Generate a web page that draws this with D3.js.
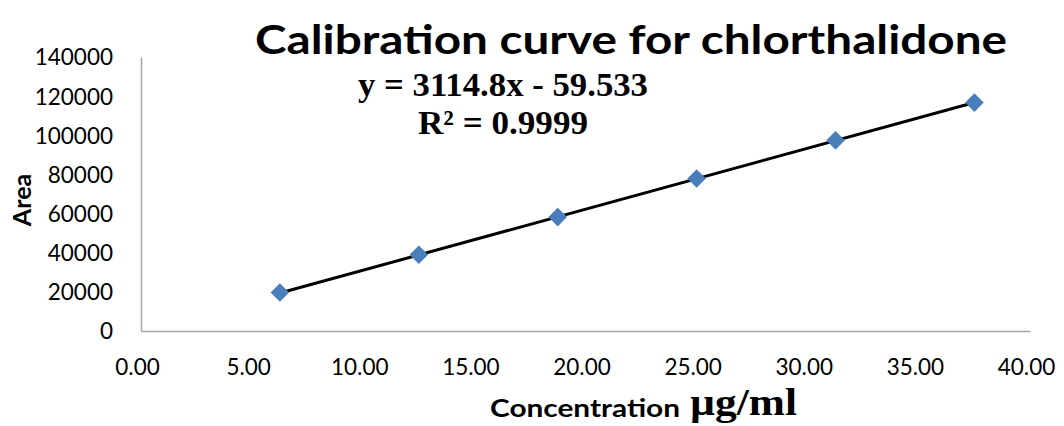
<!DOCTYPE html>
<html>
<head>
<meta charset="utf-8">
<script src="https://cdn.jsdelivr.net/npm/d3@7"></script>
<style>
  html, body { margin: 0; padding: 0; background: #fff; }
  svg { display: block; }
</style>
</head>
<body>
<svg id="chart" width="1064" height="426"></svg>
<script>
// Calibration data: concentration (µg/ml) vs peak area
const concentrations = [6.25, 12.5, 18.75, 25, 31.25, 37.5];
const areas = [19700, 38950, 58200, 77900, 97400, 116700];
const xTicks = [0, 5, 10, 15, 20, 25, 30, 35, 40];
const yTicks = [0, 20000, 40000, 60000, 80000, 100000, 120000, 140000];
// Linear fit reported on the chart
const slope = 3114.8;
const intercept = -59.533;
const rSquared = "0.9999";

const svg = d3.select("#chart");
const plot = { left: 141, right: 1030, top: 57, bottom: 331 };

const x = d3.scaleLinear().domain([0, 40]).range([plot.left, plot.right]);
const y = d3.scaleLinear().domain([0, 140000]).range([plot.bottom, plot.top]);

const sans = "Lato, 'Open Sans', sans-serif";
const serif = "'Liberation Serif', 'DejaVu Serif', serif";

// X axis
const xAxis = svg.append("g")
  .attr("transform", `translate(0,${plot.bottom})`)
  .call(d3.axisBottom(x).tickValues(xTicks).tickSize(0)
    .tickFormat(d => d.toFixed(2)));
// Y axis
const yAxis = svg.append("g")
  .attr("transform", `translate(${plot.left},0)`)
  .call(d3.axisLeft(y).tickValues(yTicks).tickSize(0).tickPadding(28)
    .tickFormat(d3.format("d")));

[xAxis, yAxis].forEach(g => {
  g.select(".domain").attr("stroke", "#a6a6a6").attr("stroke-width", 1.5);
  g.selectAll("text").attr("font-family", sans).attr("font-size", 22.5).attr("fill", "#000");
});
xAxis.selectAll("text").attr("dy", "0.35em").attr("y", 36).attr("x", -4);
yAxis.selectAll("text").attr("dy", "0.35em");

// Trendline from the fitted equation
const xMin = d3.min(concentrations), xMax = d3.max(concentrations);
svg.append("line")
  .attr("x1", x(xMin)).attr("y1", y(slope * xMin + intercept))
  .attr("x2", x(xMax)).attr("y2", y(slope * xMax + intercept))
  .attr("stroke", "#000").attr("stroke-width", 3);

// Data markers (diamonds)
const diamond = d3.symbol().type(d3.symbolDiamond2).size(220);
svg.append("g").selectAll("path")
  .data(concentrations.map((c, i) => [c, areas[i]]))
  .join("path")
  .attr("d", diamond)
  .attr("transform", d => `translate(${x(d[0])},${y(d[1])})`)
  .attr("fill", "#4a7ebb");

// Title
svg.append("text")
  .attr("x", 631).attr("y", 54)
  .attr("text-anchor", "middle")
  .attr("font-family", sans).attr("font-weight", 700).attr("font-size", 41)
  .attr("textLength", 752).attr("lengthAdjust", "spacingAndGlyphs")
  .text("Calibration curve for chlorthalidone");

// Fit equation and R²
svg.append("text")
  .attr("x", 503).attr("y", 96)
  .attr("text-anchor", "middle")
  .attr("font-family", serif).attr("font-weight", 700).attr("font-size", 33)
  .attr("textLength", 290).attr("lengthAdjust", "spacingAndGlyphs")
  .text(`y = ${slope}x - ${Math.abs(intercept)}`);
svg.append("text")
  .attr("x", 503).attr("y", 134)
  .attr("text-anchor", "middle")
  .attr("font-family", serif).attr("font-weight", 700).attr("font-size", 33)
  .attr("textLength", 170).attr("lengthAdjust", "spacingAndGlyphs")
  .text(`R² = ${rSquared}`);

// Axis titles
svg.append("text")
  .attr("transform", "translate(31,200) rotate(-90)")
  .attr("text-anchor", "middle")
  .attr("font-family", sans).attr("font-weight", 700).attr("font-size", 25)
  .text("Area");

svg.append("text")
  .attr("x", 490).attr("y", 417)
  .attr("font-family", sans).attr("font-weight", 700).attr("font-size", 25)
  .attr("textLength", 190).attr("lengthAdjust", "spacingAndGlyphs")
  .text("Concentration");
svg.append("text")
  .attr("x", 690).attr("y", 415)
  .attr("font-family", serif).attr("font-weight", 700).attr("font-size", 37)
  .attr("textLength", 107).attr("lengthAdjust", "spacingAndGlyphs")
  .text("µg/ml");
</script>
</body>
</html>
